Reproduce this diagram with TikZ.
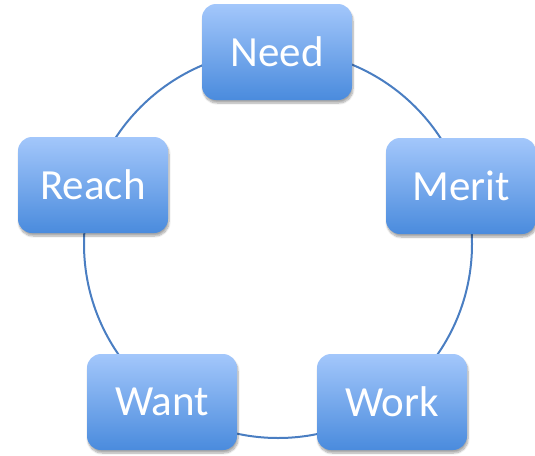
\documentclass[tikz,border=0pt]{standalone}
\usepackage{fontspec}
\setmainfont{Carlito}
\usetikzlibrary{shadows.blur}
\definecolor{ringcol}{HTML}{4A7EC2}
\definecolor{boxtop}{HTML}{A3C7FB}
\definecolor{boxbot}{HTML}{4A8BDD}
\newcommand{\ringrad}{194pt}

\tikzset{
  stage/.style={rounded corners=14pt, minimum width=150pt, minimum height=96pt,
    top color=boxtop, bottom color=boxbot, text=white, inner sep=0pt,
    font=\fontsize{43}{43}\selectfont,
    blur shadow={shadow xshift=1pt, shadow yshift=-3pt, shadow blur steps=8, shadow opacity=35}}
}

\begin{document}
\begin{tikzpicture}[x=1pt, y=-1pt]

    \useasboundingbox (0, 0) rectangle (535, 455);

    \coordinate (hub) at (278, 244);
    \draw[draw=ringcol, line width=2pt] (hub) circle (\ringrad);

    \node[stage] (need)  at (277, 52)  {Need};
    \node[stage] (merit) at (461, 186) {Merit};
    \node[stage] (work)  at (392, 402) {Work};
    \node[stage] (want)  at (162, 402) {Want};
    \node[stage] (reach) at (93, 185)  {Reach};

\end{tikzpicture}
\end{document}
